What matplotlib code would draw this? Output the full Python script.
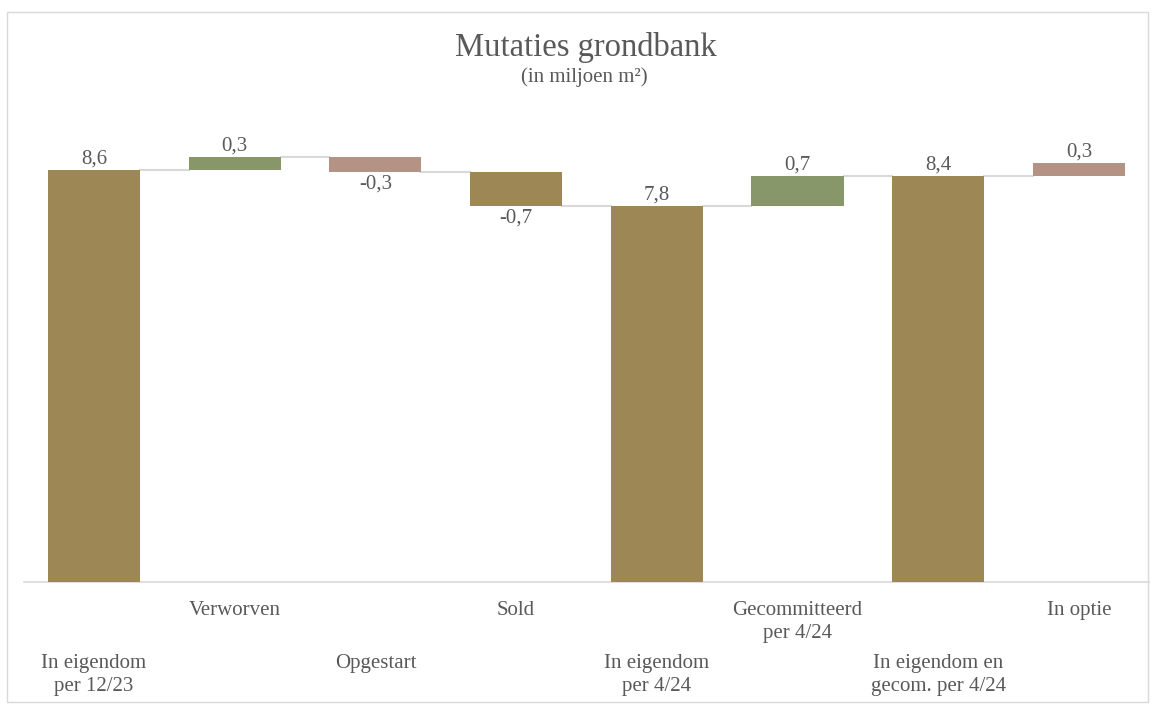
import matplotlib.pyplot as plt
import matplotlib.patches as patches

# === Data ===
categories = ["In eigendom\nper 12/23", "Verworven", "Opgestart", "Sold",
              "In eigendom\nper 4/24", "Gecommitteerd\nper 4/24",
              "In eigendom en\ngecom. per 4/24", "In optie"]
# bar heights as drawn (totals are running levels), labels as printed
values = [8.60, 0.27, -0.31, -0.71, None, 0.62, None, 0.29]
is_total = [True, False, False, False, True, False, True, False]
value_labels = ["8,6", "0,3", "-0,3", "-0,7", "7,8", "0,7", "8,4", "0,3"]

brown = "#9C8755"
green = "#87976A"
pink = "#B49385"
bar_colors = [brown, green, pink, brown, brown, green, brown, pink]
text_color = "#595959"
line_color = "#D9D9D9"

plt.rcParams["font.family"] = ["Liberation Serif", "DejaVu Serif"]

fig = plt.figure(figsize=(11.55, 7.04), dpi=100)
ax = fig.add_axes([0.0205, 0.173, 0.9745, 0.6635])

# === Waterfall geometry ===
bottoms, tops, ends = [], [], []
level = 0
for v, tot in zip(values, is_total):
    if tot:
        if v is not None:
            level = v
        b, t = 0, level
    else:
        b, t = level, level + v
        level = t
    bottoms.append(min(b, t))
    tops.append(max(b, t))
    ends.append(level)

x = list(range(len(categories)))
width = 0.655
ax.bar(x, [t - b for b, t in zip(bottoms, tops)], bottom=bottoms,
       width=width, color=bar_colors, zorder=3)

# connector lines
for i in range(len(x) - 1):
    ax.plot([x[i] + width / 2, x[i + 1] - width / 2], [ends[i], ends[i]],
            color=line_color, lw=1.5, zorder=2)

# value labels
for i, lab in enumerate(value_labels):
    if is_total[i] or values[i] >= 0:
        ax.annotate(lab, (x[i], tops[i]), xytext=(0, 1), textcoords="offset points",
                    ha="center", va="bottom", fontsize=15, color=text_color)
    else:
        ax.annotate(lab, (x[i], bottoms[i]), xytext=(0, -1.5), textcoords="offset points",
                    ha="center", va="top", fontsize=15, color=text_color)

# category labels, alternating in two rows
trans = ax.get_xaxis_transform()
for i, cat in enumerate(categories):
    yy = -0.040 if i % 2 == 1 else -0.154
    ax.text(x[i], yy, cat, transform=trans, ha="center", va="top",
            fontsize=15, color=text_color, linespacing=1.3)

ax.set_xlim(-0.5, len(categories) - 0.5)
ax.set_ylim(0, 9.75)
ax.set_xticks([])
ax.set_yticks([])
for s in ["top", "right", "left"]:
    ax.spines[s].set_visible(False)
ax.spines["bottom"].set_color(line_color)
ax.spines["bottom"].set_linewidth(1.2)

fig.text(0.507, 0.933, "Mutaties grondbank", ha="center", va="center",
         fontsize=23.5, color=text_color)
fig.text(0.506, 0.891, "(in miljoen m²)", ha="center", va="center",
         fontsize=15, color=text_color)

# outer frame
fig.patches.append(patches.Rectangle((0.006, 0.003), 0.988, 0.98, transform=fig.transFigure,
                                     fill=False, edgecolor="#D9D9D9", lw=1))

fig.savefig("out.png", dpi=100)
